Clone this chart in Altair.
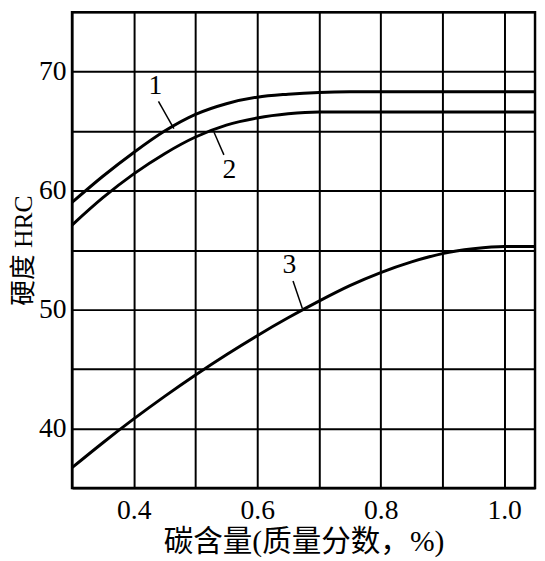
import altair as alt
import pandas as pd

# carbon content (mass %) and hardness HRC for the three curves
x1 = [0.30, 0.35, 0.40, 0.45, 0.50, 0.55, 0.60, 0.65, 0.70, 0.75, 1.05]
y1 = [59.0, 61.2, 63.2, 65.0, 66.4, 67.3, 67.85, 68.1, 68.25, 68.3, 68.3]
x2 = [0.30, 0.35, 0.40, 0.45, 0.50, 0.55, 0.60, 0.65, 0.70, 1.05]
y2 = [57.1, 59.4, 61.4, 63.1, 64.5, 65.5, 66.1, 66.45, 66.6, 66.6]
x3 = [0.30, 0.35, 0.40, 0.45, 0.50, 0.55, 0.60, 0.65, 0.70, 0.75, 0.80, 0.85, 0.90, 0.95, 1.00, 1.05]
y3 = [36.7, 38.8, 40.8, 42.7, 44.5, 46.2, 47.8, 49.3, 50.7, 52.0, 53.1, 54.0, 54.7, 55.1, 55.3, 55.3]

# curve labels and leader lines
lab_text = ["1", "2", "3"]
lab_x = [0.435, 0.555, 0.652]
lab_y = [68.8, 61.7, 53.75]
lead_x = [0.440, 0.530, 0.658]
lead_y = [67.5, 64.9, 52.4]
lead_x2 = [0.465, 0.546, 0.673]
lead_y2 = [65.2, 63.0, 50.1]

x_grid = [0.3, 0.4, 0.5, 0.6, 0.7, 0.8, 0.9, 1.0]
y_grid = [35, 40, 45, 50, 55, 60, 65, 70, 75]
x_labels = ["0.4", "0.6", "0.8", "1.0"]
y_labels = ["40", "50", "60", "70"]

rows = []
for cid, xs, ys in (("1", x1, y1), ("2", x2, y2), ("3", x3, y3)):
    for a, b in zip(xs, ys):
        rows.append({"curve": cid, "c": a, "h": b})
df = pd.DataFrame(rows)
labels = pd.DataFrame({"t": lab_text, "x": lab_x, "y": lab_y,
                       "lx": lead_x, "ly": lead_y, "lx2": lead_x2, "ly2": lead_y2})

FONT = "Liberation Serif, Noto Sans CJK SC"

xlabel_expr = "indexof(%s, format(datum.value, '.1f')) >= 0 ? format(datum.value, '.1f') : ''" % str(x_labels)
ylabel_expr = "indexof(%s, format(datum.value, 'd')) >= 0 ? format(datum.value, 'd') : ''" % str(y_labels)

xs = alt.Scale(domain=[0.3, 1.05], nice=False, zero=False)
ys = alt.Scale(domain=[35, 75], nice=False, zero=False)

xaxis = alt.Axis(values=x_grid, labelExpr=xlabel_expr, title="碳含量(质量分数，%)",
                 grid=True, ticks=False, domain=False, labelPadding=9, titlePadding=3,
                 titleFontSize=30)
yaxis = alt.Axis(values=y_grid, labelExpr=ylabel_expr, title="硬度 HRC",
                 grid=True, ticks=False, domain=False, labelPadding=6, titlePadding=2,
                 titleFontSize=26)

lines = alt.Chart(df).mark_line(color="black", strokeWidth=3, interpolate="monotone").encode(
    x=alt.X("c:Q", scale=xs, axis=xaxis),
    y=alt.Y("h:Q", scale=ys, axis=yaxis),
    detail="curve:N",
)

leaders = alt.Chart(labels).mark_rule(color="black", strokeWidth=1.5).encode(
    x=alt.X("lx:Q", scale=xs), y=alt.Y("ly:Q", scale=ys), x2="lx2:Q", y2="ly2:Q"
)

texts = alt.Chart(labels).mark_text(font=FONT, fontSize=28, color="black").encode(
    x=alt.X("x:Q", scale=xs), y=alt.Y("y:Q", scale=ys), text="t:N"
)

chart = alt.layer(lines, leaders, texts).properties(
    width=470, height=483,
    autosize=alt.AutoSizeParams(type="none"),
    padding={"left": 65, "top": 0, "right": 2, "bottom": 70},
    background="white",
).configure_view(
    stroke="black", strokeWidth=2.5
).configure_axis(
    gridColor="black", gridWidth=2, gridOpacity=1,
    labelFont=FONT, labelFontSize=28, labelColor="black",
    titleFont=FONT, titleColor="black", titleFontWeight="normal",
)

chart.save("out.html", embed_options={"renderer": "svg", "actions": False})
